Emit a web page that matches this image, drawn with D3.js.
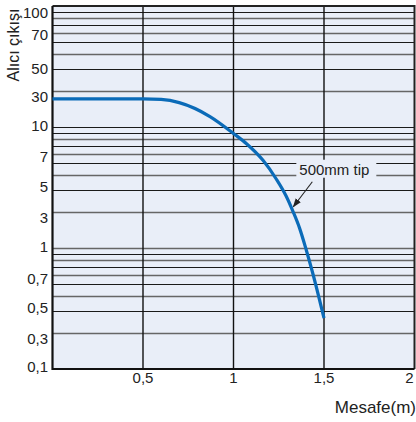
<!DOCTYPE html>
<html><head><meta charset="utf-8">
<script src="https://cdn.jsdelivr.net/npm/d3@7"></script>
<style>body{margin:0;background:#fff}svg{display:block;font-family:"Liberation Sans",Arial,sans-serif}</style>
</head><body><svg id="c" width="416" height="422"></svg>
<script>
// distance (m)
const distance = [0, 0.5, 0.6, 0.7, 0.87, 1.0, 1.072, 1.163, 1.237, 1.29, 1.329, 1.365, 1.402, 1.439, 1.5];
// receiver output
const output = [17.1, 17.1, 16.9, 15.9, 12.2, 8.84, 7.27, 5.3, 3.7, 2.7, 2.0, 1.46, 0.963, 0.61, 0.263];
const xTicks = [0.5, 1, 1.5, 2];
const xTickLabels = ["0,5", "1", "1,5", "2"];
const yTickLabels = ["100", "70", "50", "30", "10", "7", "5", "3", "1", "0,7", "0,5", "0,3", "0,1"];
const yTickAnchors = [88, 57.6, 30.5, 17.8, 10.2, 5.7, 3.2, 1.8, 1.02, 0.565, 0.32, 0.18, 0.105];
const seriesLabel = "500mm tip";
const annotationAt = 1.325;

const svg = d3.select("#c");
const L = 52.5, R = 414.5, T = 6, B = 369;
const x = d3.scaleLinear().domain([0, 2]).range([L, R]);
const y = d3.scaleLog().domain([0.1, 100]).range([B, T]);

svg.append("rect").attr("x", L).attr("y", T).attr("width", R - L).attr("height", B - T).attr("fill", "#e9eef8");

// horizontal log grid
const gridVals = [];
[0.1, 1, 10].forEach(d => { for (let k = 2; k <= 9; k++) gridVals.push(+(d * k).toPrecision(3)); });
[1, 10].forEach(v => gridVals.push(v));
const g = svg.append("g");
g.selectAll("line.h").data(gridVals).join("line")
  .attr("x1", L).attr("x2", R)
  .attr("y1", d => Math.round(y(d)) + 0.5).attr("y2", d => Math.round(y(d)) + 0.5)
  .attr("stroke", (d, i) => i % 2 ? "#1a1a1a" : "#666")
  .attr("stroke-width", (d, i) => i % 2 ? 1.2 : 1.6);
g.selectAll("line.v").data(xTicks.slice(0, 3)).join("line")
  .attr("x1", d => x(d)).attr("x2", d => x(d)).attr("y1", T).attr("y2", B)
  .attr("stroke", "#111").attr("stroke-width", 1.4);

// border
svg.append("path").attr("d", `M${L},${T}H${R}V${B}`).attr("fill", "none").attr("stroke", "#222").attr("stroke-width", 2);
svg.append("path").attr("d", `M${L},${T}V${B}H${R}`).attr("fill", "none").attr("stroke", "#111").attr("stroke-width", 2.2);

// curve
const pts = distance.map((d, i) => [d, output[i]]);
svg.append("path").datum(pts)
  .attr("d", d3.line().x(d => x(d[0])).y(d => y(d[1])).curve(d3.curveMonotoneX))
  .attr("fill", "none").attr("stroke", "#0b6bb8").attr("stroke-width", 3.2);

// annotation
const curveY = d3.scaleLinear().domain(distance).range(output);
const tipX = x(annotationAt), tipY = y(curveY(annotationAt));
const lx = tipX + 42, ly = tipY - 40;
const ann = svg.append("g");
ann.append("rect").attr("x", lx - 38).attr("y", ly - 10).attr("width", 80).attr("height", 18).attr("fill", "#e9eef8");
ann.append("text").attr("x", lx).attr("y", ly).attr("text-anchor", "middle").attr("dominant-baseline", "central")
  .attr("font-size", 15).attr("fill", "#222").text(seriesLabel);
svg.append("defs").append("marker").attr("id", "ah").attr("viewBox", "0 0 10 10").attr("refX", 9).attr("refY", 5)
  .attr("markerWidth", 9).attr("markerHeight", 9).attr("orient", "auto").attr("markerUnits", "userSpaceOnUse")
  .append("path").attr("d", "M0,1.5L10,5L0,8.5Z").attr("fill", "#222");
ann.append("line").attr("x1", lx - 22).attr("y1", ly + 12).attr("x2", tipX + 1).attr("y2", tipY - 3)
  .attr("stroke", "#222").attr("stroke-width", 1.1).attr("marker-end", "url(#ah)");

// y labels
svg.append("g").selectAll("text").data(yTickLabels).join("text")
  .attr("x", 48).attr("y", (d, i) => y(yTickAnchors[i])).attr("text-anchor", "end")
  .attr("dominant-baseline", "central").attr("font-size", 15).attr("fill", "#222").text(d => d);
// x labels
svg.append("g").selectAll("text").data(xTicks).join("text")
  .attr("x", (d, i) => i === xTicks.length - 1 ? x(d) - 1 : x(d))
  .attr("y", 383).attr("text-anchor", (d, i) => i === xTicks.length - 1 ? "end" : "middle")
  .attr("font-size", 15).attr("fill", "#222").text((d, i) => xTickLabels[i]);

svg.append("text").attr("x", 416).attr("y", 413).attr("text-anchor", "end").attr("font-size", 17).attr("fill", "#222").text("Mesafe(m)");
svg.append("text").attr("transform", "translate(19,45) rotate(-90)").attr("text-anchor", "middle")
  .attr("font-size", 16).attr("fill", "#222").text("Alıcı çıkışı");
</script></body></html>
